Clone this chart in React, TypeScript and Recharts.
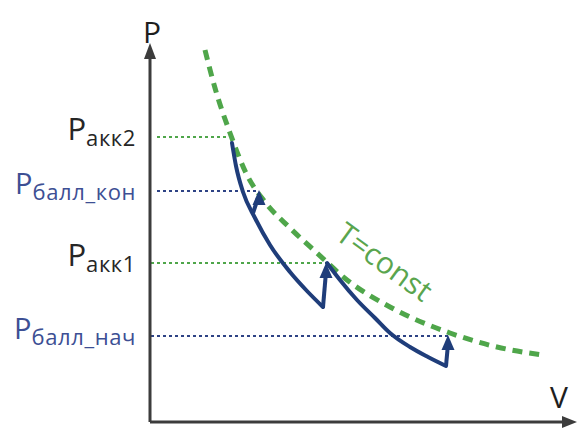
import { ComposedChart, Line, Scatter, XAxis, YAxis, ReferenceLine, ReferenceDot } from 'recharts';

// isotherm T=const (green dashed)
const isoV = [5.5, 6.5, 8.0, 9.7, 11.5, 14.0, 16.7, 19.7, 24.0, 30.0, 34.7, 39.3];
const isoP = [37.2, 33.4, 28.9, 24.7, 22.0, 19.4, 16.9, 14.2, 11.5, 8.9, 7.5, 6.7];

// blue process curves
const path1V = [8.2, 8.6, 9.3, 10.5, 12.0, 14.0, 15.7, 17.3];
const path1P = [27.9, 25.6, 23.0, 20.4, 17.7, 15.0, 13.1, 11.5];
const path2V = [17.7, 19.0, 20.7, 22.5, 24.0, 26.0, 27.8, 29.6];
const path2P = [15.9, 14.2, 12.2, 10.4, 8.9, 7.5, 6.5, 5.6];

// upward arrows: shaft start, shaft end, tip
const arrowFromV = [10.3, 17.3, 29.6];
const arrowFromP = [20.9, 11.5, 5.6];
const arrowToV = [10.8, 17.6, 29.8];
const arrowToP = [22.4, 15.0, 7.8];
const arrowTipV = [10.9, 17.6, 29.8];
const arrowTipP = [23.2, 15.9, 8.7];

// axis arrow tips
const axisTipV = [0, 42.7];
const axisTipP = [37.9, 0];
const axisTipDir = ['up', 'right'];

// pressure levels
const levelSubs = ['акк2', 'балл_кон', 'акк1', 'балл_нач'];
const levelP = [28.5, 23.1, 15.9, 8.6];
const levelStartV = [0.7, 0.7, 0.1, 0.1];
const levelEndV = [7.8, 10.6, 17.6, 29.8];
const levelKind = ['akk', 'ball', 'akk', 'ball'];

const GREEN = '#4fa64a';
const BLUE = '#1f3d7a';
const AXIS = '#3c3c3c';
const FONT = '"Open Sans", sans-serif';

const toPts = (vs: number[], ps: number[]) => vs.map((v, i) => ({ v, p: ps[i] }));

const head = (props: any) => {
  const { cx, cy, payload } = props;
  if (payload.kind === 'right') {
    return <path d={`M${cx},${cy} L${cx - 15},${cy - 6} L${cx - 15},${cy + 6} Z`} fill={AXIS} />;
  }
  const axis = payload.kind === 'up';
  const w = axis ? 12 : 13;
  const h = axis ? 16 : 15;
  return <path d={`M${cx},${cy} L${cx - w / 2},${cy + h} L${cx + w / 2},${cy + h} Z`} fill={axis ? AXIS : BLUE} />;
};

const levelLabel = (sub: string, kind: string) => (props: any) => {
  const y = props.viewBox.y;
  const color = kind === 'akk' ? '#262626' : '#3d4f94';
  return (
    <text x={136} y={y + 3} textAnchor="end" fill={color} fontFamily={FONT}>
      <tspan fontSize={kind === 'akk' ? 31 : 29}>P</tspan>
      <tspan fontSize={22} dy={6} letterSpacing={0.6}>{sub}</tspan>
    </text>
  );
};

export default function App() {
  const iso = toPts(isoV, isoP);
  const p1 = toPts(path1V, path1P);
  const p2 = toPts(path2V, path2P);
  const heads = [
    ...arrowTipV.map((v, i) => ({ v, p: arrowTipP[i], kind: 'blue' })),
    ...axisTipV.map((v, i) => ({ v, p: axisTipP[i], kind: axisTipDir[i] })),
  ];

  return (
    <div style={{ position: 'absolute', left: 0, top: 0, background: '#fff' }}>
      <ComposedChart width={586} height={431} margin={{ top: 40, right: 6, bottom: 9, left: 150 }}>
        <XAxis type="number" dataKey="v" domain={[0, 43]} hide />
        <YAxis type="number" dataKey="p" domain={[0, 38.2]} hide />

        {levelP.map((p, i) => (
          <ReferenceLine
            key={`lvl-${i}`}
            segment={[{ x: levelStartV[i], y: p }, { x: levelEndV[i], y: p }]}
            stroke={levelKind[i] === 'akk' ? GREEN : '#2e4385'}
            strokeWidth={2}
            strokeDasharray="3 3"
            label={levelLabel(levelSubs[i], levelKind[i])}
          />
        ))}

        <ReferenceLine
          segment={[{ x: 0, y: 0 }, { x: 0, y: 36.6 }]}
          stroke={AXIS}
          strokeWidth={3}
          label={(props: any) => (
            <text x={props.viewBox.x + 2} y={props.viewBox.y - 13} textAnchor="middle" fill="#1e1e1e" fontFamily={FONT} fontSize={30}>
              P
            </text>
          )}
        />
        <ReferenceLine
          segment={[{ x: 0, y: 0 }, { x: 41.4, y: 0 }]}
          stroke={AXIS}
          strokeWidth={3}
          label={(props: any) => (
            <text x={props.viewBox.x + props.viewBox.width - 5} y={props.viewBox.y - 14} textAnchor="middle" fill="#1e1e1e" fontFamily={FONT} fontSize={30}>
              V
            </text>
          )}
        />

        <Line
          data={iso}
          dataKey="p"
          type="monotone"
          stroke={GREEN}
          strokeWidth={5}
          strokeDasharray="10 7"
          dot={false}
          isAnimationActive={false}
        />

        <Line data={p1} dataKey="p" type="monotone" stroke={BLUE} strokeWidth={4} dot={false} isAnimationActive={false} strokeLinecap="round" />
        <Line data={p2} dataKey="p" type="monotone" stroke={BLUE} strokeWidth={4} dot={false} isAnimationActive={false} strokeLinecap="round" />
        {arrowFromV.map((v, i) => (
          <Line
            key={`shaft-${i}`}
            data={[{ v, p: arrowFromP[i] }, { v: arrowToV[i], p: arrowToP[i] }]}
            dataKey="p"
            type="linear"
            stroke={BLUE}
            strokeWidth={4}
            dot={false}
            isAnimationActive={false}
          />
        ))}
        <Scatter data={heads} dataKey="p" shape={head} isAnimationActive={false} />

        <ReferenceDot
          x={23.3}
          y={15.8}
          r={1}
          fill="none"
          stroke="none"
          label={(props: any) => {
            const cx = props.viewBox.x + props.viewBox.width / 2;
            const cy = props.viewBox.y + props.viewBox.height / 2;
            return (
              <text
                x={cx}
                y={cy}
                textAnchor="middle"
                dominantBaseline="middle"
                fill="#5aa54e"
                fontFamily={FONT}
                fontSize={30}
                transform={`rotate(36 ${cx} ${cy})`}
              >
                T=const
              </text>
            );
          }}
        />
      </ComposedChart>
    </div>
  );
}
